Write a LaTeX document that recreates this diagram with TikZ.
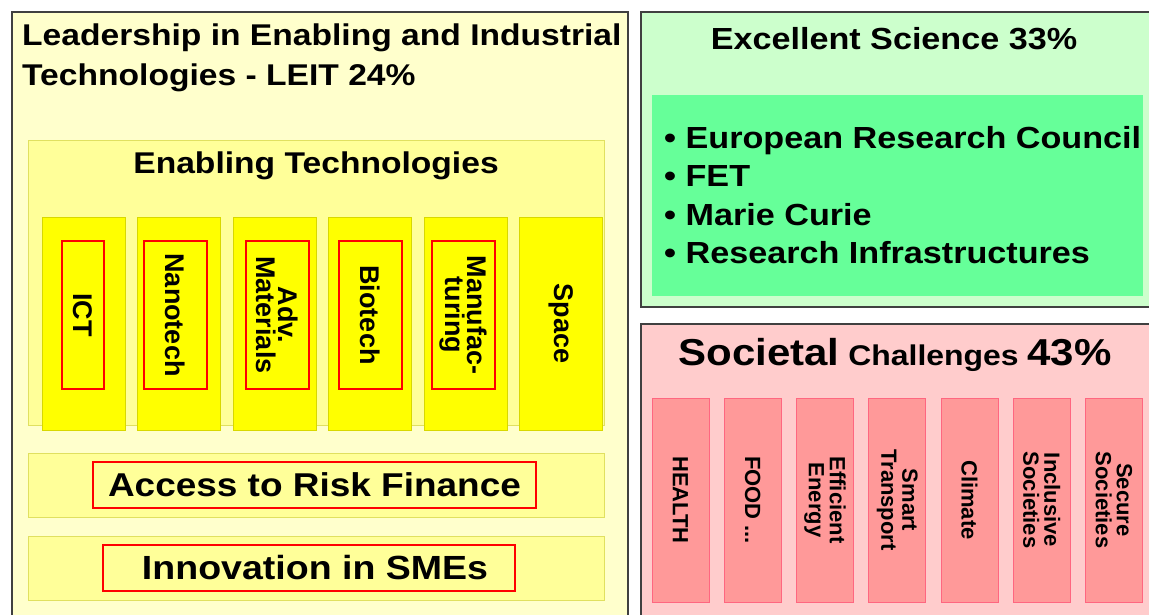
\documentclass[tikz,border=0pt]{standalone}
\usepackage{fontspec}
\setmainfont{Liberation Sans}
\newfontfamily\widefont[FakeStretch=1.12]{Liberation Sans}
\usetikzlibrary{positioning}

\definecolor{panelline}{HTML}{404040}
\definecolor{leitbg}{HTML}{FFFFCC}
\definecolor{etbg}{HTML}{FFFF99}
\definecolor{etline}{HTML}{E0E060}
\definecolor{techfill}{HTML}{FFFF00}
\definecolor{techline}{HTML}{D8D800}
\definecolor{redline}{HTML}{FF0000}
\definecolor{sciencebg}{HTML}{CCFFCC}
\definecolor{sciencein}{HTML}{66FF99}
\definecolor{societybg}{HTML}{FFCCCC}
\definecolor{challfill}{HTML}{FF9999}
\definecolor{challline}{HTML}{FF6680}

\newcommand{\sizebf}[2]{\fontsize{#1}{#2}\selectfont\bfseries}
\newcommand{\widebf}[2]{\widefont\fontsize{#1}{#2}\selectfont\bfseries}

\begin{document}
\begin{tikzpicture}[x=1pt, y=-1pt,
    panel/.style={draw=panelline, line width=1.5pt},
    etbox/.style={draw=etline, fill=etbg, line width=1pt},
    techcol/.style={draw=techline, fill=techfill, line width=1pt, minimum width=83pt, minimum height=213pt, inner sep=0pt},
    redbox/.style={draw=redline, line width=2pt, inner sep=0pt, align=center, font=\sizebf{27}{22}},
    bar/.style={draw=etline, fill=etbg, line width=1pt, minimum width=576pt, minimum height=64pt, inner sep=0pt},
    challcol/.style={draw=challline, fill=challfill, line width=1pt, minimum width=204pt, minimum height=57pt, inner sep=0pt, rotate=-90, align=center, font=\sizebf{22}{21}}
  ]
  \useasboundingbox (0,0) rectangle (1149,614);

  % LEIT
  \draw[panel, fill=leitbg] (12,12) rectangle (628,622);
  \node[anchor=north west, align=left, inner sep=0pt, font=\widebf{30}{40}] (leit) at (22,24)
    {Leadership in Enabling and Industrial\\Technologies - LEIT 24\%};
  \draw[etbox] (28,140) rectangle (604,425);
  \node[font=\widebf{30}{30}] (enabling) at (316,166) {Enabling Technologies};
  \foreach \i in {0,...,5}
    \node[techcol] (tech\i) at (83.5+95.5*\i,323.5) {};
  \node[redbox, rotate=-90, minimum width=148pt, minimum height=42pt] (ict) at (83,315) {ICT};
  \node[redbox, rotate=-90, minimum width=148pt, minimum height=63pt] (nano) at (175.5,315) {Nanotech};
  \node[redbox, rotate=-90, minimum width=148pt, minimum height=63pt] (adv) at (277.5,315) {Adv.\\Materials};
  \node[redbox, rotate=-90, minimum width=148pt, minimum height=63pt] (bio) at (370,315) {Biotech};
  \node[redbox, rotate=-90, minimum width=148pt, minimum height=63pt] (manu) at (463.5,315) {Manufac-\\turing};
  \node[rotate=-90, font=\sizebf{27}{22}] (space) at (tech5) {Space};

  \node[bar] (riskbar) at (316,485) {};
  \node[redbox, minimum width=443pt, minimum height=46pt, font=\widebf{33}{36}] (risk) at (314.5,485) {Access to Risk Finance};
  \node[bar] (smebar) at (316,568) {};
  \node[redbox, minimum width=412pt, minimum height=46pt, font=\widebf{33.5}{36}] (sme) at (309,568) {\hspace*{12pt}Innovation in SMEs};

  % Excellent Science
  \draw[panel, fill=sciencebg] (641,12) rectangle (1156,307);
  \node[font=\widebf{30.5}{30}] (science) at (894,39) {Excellent Science 33\%};
  \node[fill=sciencein, minimum width=491pt, minimum height=201pt, inner sep=0pt] (erc) at (897.5,195.5) {};
  \node[anchor=west, align=left, inner sep=0pt, font=\widebf{30.5}{38.5}] (erclist) at (664,195)
    {\textbullet\ European Research Council\\\textbullet\ FET\\\textbullet\ Marie Curie\\\textbullet\ Research Infrastructures};

  % Societal Challenges
  \draw[panel, fill=societybg] (641,324) rectangle (1156,622);
  \node[font=\widebf{28.5}{30}] (society) at (895,355) {{\fontsize{37.5}{40}\selectfont Societal} Challenges {\fontsize{37.5}{40}\selectfont 43\%}};
  \foreach \i/\txt in {0/HEALTH, 1/{FOOD ...}, 2/{Efficient\\Energy}, 3/{Smart\\Transport}, 4/Climate, 5/{Inclusive\\Societies}, 6/{Secure\\Societies}}
    \node[challcol] (chall\i) at (680.5+72.25*\i,500) {\txt};
\end{tikzpicture}
\end{document}
